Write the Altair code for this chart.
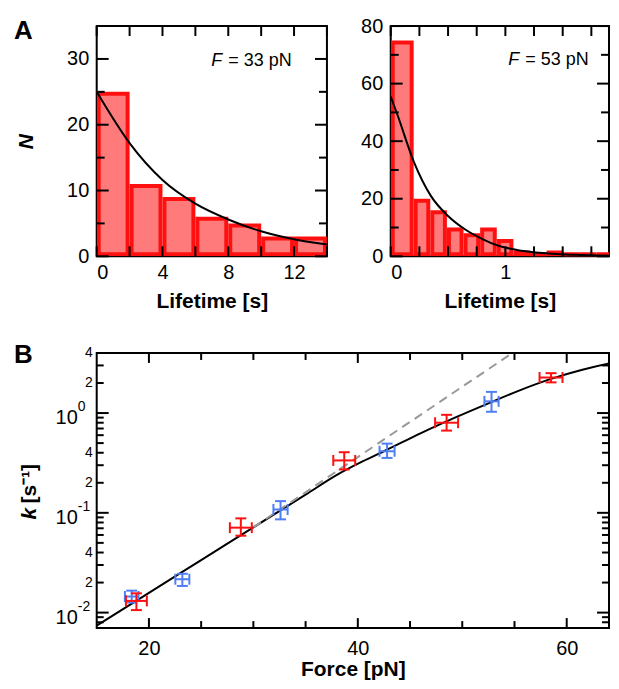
import altair as alt
import pandas as pd

# ---------------- data ----------------
# Panel A, left histogram (F = 33 pN)
a1_bin_start = [0, 2, 4, 6, 8, 10, 12]
a1_bin_end = [2, 4, 6, 8, 10, 12, 14]
a1_counts = [25, 11, 9, 6, 5, 3, 3]
a1_fit_t = [0, 2, 4, 6, 8, 10, 12, 14]
a1_fit_n = [25, 17.2, 11.6, 8.0, 5.6, 3.8, 2.6, 1.8]
a1_x_labels = [0, 4, 8, 12]
a1_y_labels = [0, 10, 20, 30]
a1_x_ticks = [0, 2, 4, 6, 8, 10, 12, 14]
a1_y_major = [0, 10, 20, 30]
a1_y_minor = [5, 15, 25]

# Panel A, right histogram (F = 53 pN); the figure is cut at its right edge
a2_bin_start = [0, 0.2, 0.345, 0.49, 0.635, 0.78, 0.925, 1.07, 1.215, 1.36, 1.505, 1.65, 1.795]
a2_bin_end = [0.2, 0.345, 0.49, 0.635, 0.78, 0.925, 1.07, 1.215, 1.36, 1.505, 1.65, 1.795, 1.94]
a2_counts = [75, 20, 16, 10, 8, 10, 6, 2, 1, 2, 1, 1, 1]
a2_fit_t = [0, 0.06, 0.2, 0.35, 0.5, 0.65, 0.8, 0.93, 1.1, 1.3, 1.6, 2.0]
a2_fit_n = [55.5, 49, 33, 21, 14, 9.3, 6, 3.8, 2.2, 1.2, 0.5, 0.15]
a2_x_labels = [0, 1]
a2_y_labels = [0, 20, 40, 60, 80]
a2_x_ticks = [0, 0.25, 0.5, 0.75, 1, 1.25, 1.5, 1.75]
a2_y_major = [0, 20, 40, 60, 80]
a2_y_minor = [10, 30, 50, 70]

# Panel B: rates vs force
red_F = [18.8, 28.8, 38.7, 48.5, 58.5]
red_k = [0.0131, 0.071, 0.335, 0.80, 2.27]
red_Ferr = [1.0, 1.05, 1.05, 1.1, 1.1]
red_klo = [0.0106, 0.059, 0.272, 0.667, 2.03]
red_khi = [0.0156, 0.088, 0.405, 0.96, 2.51]

blue_F = [18.35, 23.2, 32.6, 42.8, 52.8]
blue_k = [0.0145, 0.0216, 0.108, 0.414, 1.31]
blue_Ferr = [0.65, 0.67, 0.68, 0.72, 0.68]
blue_klo = [0.0126, 0.0185, 0.086, 0.355, 1.03]
blue_khi = [0.0166, 0.0245, 0.131, 0.494, 1.63]

fit_F = [15, 20, 25, 30, 35, 38, 40.5, 42.6, 46.1, 49.3, 52.8, 55.5, 58.5, 61.5, 64.3, 65]
fit_k = [0.0074, 0.0158, 0.0336, 0.0715, 0.152, 0.24, 0.329, 0.419, 0.634, 0.90, 1.29,
         1.69, 2.2, 2.72, 3.18, 3.29]
bell_F = [30, 54.8]
bell_k = [0.0715, 4.0]

b_x_labels = [20, 40, 60]
b_x_major = [20, 40, 60]
b_x_minor = [25, 30, 35, 45, 50, 55]
b_y_decades = [0.01, 0.1, 1]
b_y_decade_base = ["10", "10", "10"]
b_y_decade_exp = ["-2", "-1", "0"]
b_y_minor_label_vals = [0.02, 0.04, 0.2, 0.4, 2, 4]
b_y_minor_label_text = ["2", "4", "2", "4", "2", "4"]
b_y_major = [0.01, 0.1, 1]
b_y_minor = [0.008, 0.009, 0.02, 0.03, 0.04, 0.05, 0.06, 0.07, 0.08, 0.09,
             0.2, 0.3, 0.4, 0.5, 0.6, 0.7, 0.8, 0.9, 2, 3]

# ---------------- styles ----------------
FONT = "Liberation Sans"
RED = "#ff1010"
BLUE = "#4d7ef5"
HFILL = "#ff7b7b"
W1, H1 = 231, 231
W2, H2 = 219, 231
WB, HB = 514, 276


def tick_rules(values, channel, length, W, H, scale):
    df = pd.DataFrame({"v": values})
    base = alt.Chart(df).mark_rule(color="black", strokeWidth=2)
    if channel == "x":
        enc = alt.X("v:Q", scale=scale)
        return [base.encode(x=enc, y=alt.value(H), y2=alt.value(H - length)),
                base.encode(x=enc, y=alt.value(0), y2=alt.value(length))]
    enc = alt.Y("v:Q", scale=scale)
    return [base.encode(y=enc, x=alt.value(0), x2=alt.value(length)),
            base.encode(y=enc, x=alt.value(W), x2=alt.value(W - length))]


def label(text, x, y, size, weight="normal", style="normal", align="left", angle=0):
    return alt.Chart(pd.DataFrame({"t": [text]})).mark_text(
        font=FONT, fontSize=size, fontWeight=weight, fontStyle=style,
        align=align, baseline="middle", angle=angle, color="black"
    ).encode(text="t:N", x=alt.value(x), y=alt.value(y))


def histogram(starts, ends, counts, fit_t, fit_n, xdom, ydom, xlabels, ylabels,
              xticks, ymaj, ymin, W, H, ftext, fx, eqx, fy, ytitle, ypad_title, extra):
    xs = alt.Scale(domain=xdom, nice=False, zero=False)
    ys = alt.Scale(domain=ydom, nice=False)
    df = pd.DataFrame({"start": starts, "end": ends, "count": counts})
    yax = alt.Axis(values=ylabels, labelPadding=8, titlePadding=ypad_title, format="d",
                   title=ytitle if ytitle else "", titleFontStyle="italic")
    bars = alt.Chart(df).mark_rect(
        fill=HFILL, stroke=RED, strokeWidth=4, xOffset=2, x2Offset=-2,
        yOffset=2, y2Offset=-2, clip=True
    ).encode(
        x=alt.X("start:Q", scale=xs,
                axis=alt.Axis(values=xlabels, title="Lifetime [s]", labelPadding=6,
                              titlePadding=8, format="d")),
        x2="end:Q",
        y=alt.Y("count:Q", scale=ys, axis=yax),
        y2=alt.datum(0),
    )
    fit = alt.Chart(pd.DataFrame({"t": fit_t, "n": fit_n})).mark_line(
        color="black", strokeWidth=2, interpolate="monotone", clip=True
    ).encode(x=alt.X("t:Q", scale=xs), y=alt.Y("n:Q", scale=ys))
    layers = [bars, fit]
    layers += tick_rules(xticks, "x", 10, W, H, xs)
    layers += tick_rules(ymaj, "y", 12, W, H, ys)
    layers += tick_rules(ymin, "y", 8, W, H, ys)
    layers += [label("F", fx, fy, 18, style="italic"), label(ftext, eqx, fy, 18)]
    layers += extra
    return alt.layer(*layers).properties(width=W, height=H)


A1 = histogram(a1_bin_start, a1_bin_end, a1_counts, a1_fit_t, a1_fit_n, [0, 14], [0, 35],
               a1_x_labels, a1_y_labels, a1_x_ticks, a1_y_major, a1_y_minor, W1, H1,
               "= 33 pN", 115, 132, 35, "N", 30,
               [label("A", -83, 5, 26, weight="bold")])
A2 = histogram(a2_bin_start, a2_bin_end, a2_counts, a2_fit_t, a2_fit_n, [0, 1.904], [0, 80],
               a2_x_labels, a2_y_labels, a2_x_ticks, a2_y_major, a2_y_minor, W2, H2,
               "= 53 pN", 118, 135, 34, None, 0, [])

# ---------------- panel B ----------------
xsB = alt.Scale(domain=[15, 64.05], nice=False, zero=False)
ysB = alt.Scale(type="log", domain=[0.007, 4], nice=False)

fit_line = alt.Chart(pd.DataFrame({"F": fit_F, "k": fit_k})).mark_line(
    color="black", strokeWidth=2, interpolate="monotone", clip=True
).encode(
    x=alt.X("F:Q", scale=xsB,
            axis=alt.Axis(values=b_x_labels, title="Force [pN]", labelPadding=11,
                          titlePadding=0, format="d")),
    y=alt.Y("k:Q", scale=ysB, axis=None),
)
bell_line = alt.Chart(pd.DataFrame({"F": bell_F, "k": bell_k})).mark_line(
    color="#999999", strokeWidth=2, strokeDash=[9, 6], clip=True
).encode(x=alt.X("F:Q", scale=xsB), y=alt.Y("k:Q", scale=ysB, axis=None))


def error_layers(F, k, Ferr, klo, khi, color):
    df = pd.DataFrame({"F": F, "k": k, "Flo": [f - e for f, e in zip(F, Ferr)],
                       "Fhi": [f + e for f, e in zip(F, Ferr)], "klo": klo, "khi": khi})
    base = alt.Chart(df)
    X = lambda f: alt.X(f"{f}:Q", scale=xsB)
    Y = lambda f: alt.Y(f"{f}:Q", scale=ysB, axis=None)
    out = [
        base.mark_rule(color=color, strokeWidth=2).encode(x=X("Flo"), x2="Fhi:Q", y=Y("k")),
        base.mark_rule(color=color, strokeWidth=2).encode(x=X("F"), y=Y("klo"), y2="khi:Q"),
    ]
    for f in ["Flo", "Fhi"]:
        out.append(base.mark_tick(orient="vertical", size=11, thickness=2, color=color,
                                  opacity=1).encode(x=X(f), y=Y("k")))
    for f in ["klo", "khi"]:
        out.append(base.mark_tick(orient="horizontal", size=11, thickness=2, color=color,
                                  opacity=1).encode(x=X("F"), y=Y(f)))
    return out


def y_text(vals, texts, x, size, align, dy):
    return alt.Chart(pd.DataFrame({"v": vals, "t": texts})).mark_text(
        font=FONT, fontSize=size, align=align, baseline="middle", dy=dy, color="black"
    ).encode(y=alt.Y("v:Q", scale=ysB, axis=None), x=alt.value(x), text="t:N")


def y_rules_b(values, length):
    df = pd.DataFrame({"v": values})
    base = alt.Chart(df).mark_rule(color="black", strokeWidth=2)
    enc = alt.Y("v:Q", scale=ysB, axis=None)
    return [base.encode(y=enc, x=alt.value(0), x2=alt.value(length)),
            base.encode(y=enc, x=alt.value(WB), x2=alt.value(WB - length))]


b_layers = [fit_line, bell_line]
b_layers += error_layers(blue_F, blue_k, blue_Ferr, blue_klo, blue_khi, BLUE)
b_layers += error_layers(red_F, red_k, red_Ferr, red_klo, red_khi, RED)
b_layers += tick_rules(b_x_major, "x", 10, WB, HB, xsB)
b_layers += tick_rules(b_x_minor, "x", 7, WB, HB, xsB)
b_layers += y_rules_b(b_y_major, 12)
b_layers += y_rules_b(b_y_minor, 7)
b_layers += [
    y_text(b_y_decades, b_y_decade_base, -19, 20, "right", 5),
    y_text(b_y_decades, b_y_decade_exp, -19, 14, "left", -6),
    y_text(b_y_minor_label_vals, b_y_minor_label_text, -4, 14, "right", 0),
    label("B", -83, 2, 26, weight="bold"),
    label("k", -67, 167, 21, weight="bold", style="italic", angle=270),
    label("[s⁻¹]", -67, 151, 21, weight="bold", angle=270),
]
B = alt.layer(*b_layers).properties(width=WB, height=HB)

row = alt.hconcat(A1, A2, spacing=64, bounds="flush")
chart = alt.vconcat(row, B, spacing=29).properties(
    padding={"left": 5, "top": 6, "right": 0, "bottom": 0}
).configure_view(
    stroke="black", strokeWidth=2
).configure_axis(
    labelFont=FONT, titleFont=FONT, labelColor="black", titleColor="black",
    domain=False, ticks=False, grid=False, labelFontSize=20, titleFontSize=21,
    titleFontWeight="bold"
).configure_text(font=FONT)

chart.save("out.html", embed_options={"renderer": "svg", "actions": False})
